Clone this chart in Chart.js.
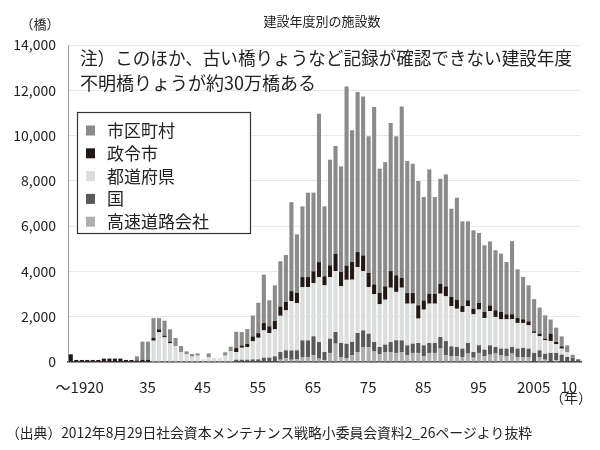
<!DOCTYPE html>
<html>
<head>
<meta charset="utf-8">
<script src="https://cdn.jsdelivr.net/npm/chart.js@4/dist/chart.umd.min.js"></script>
<style>
  html, body { margin: 0; padding: 0; background: #fff; }
  #wrap { width: 600px; height: 450px; position: relative; }
</style>
</head>
<body>
<div id="wrap"><canvas id="chart1" width="600" height="450"></canvas></div>
<script>
// years 1920..2012, the first bar stands for "～1920"
var years = [];
for (var y = 1920; y <= 2012; y++) years.push(String(y));

var tickYears = ["1920","1935","1945","1955","1965","1975","1985","1995","2005","2010"];
// en spaces nudge the first and last label the way the original sets them
var tickText  = ["\u2002\u2002\u2002\u2002～1920","35","45","55","65","75","85","95","2005","\u2002\u200210"];
var yTicks = [0, 2000, 4000, 6000, 8000, 10000, 12000, 14000];

// 市区町村
var city = [0,0,0,0,0,0,0,0,0,0,0,0,
  180,800,800,880,500,660,545,370,265,120,120,100,0,175,0,0,150,205,
  720,590,650,925,1340,2135,1150,1575,2000,2075,
  3930,2575,3120,3725,3475,6550,3090,4665,4755,4665,
  7905,5815,7065,7020,6035,7830,5490,5490,6535,6135,
  7565,5830,5710,5490,4565,5490,4270,4635,4945,3900,
  4505,3740,3490,3460,3090,2945,2825,2650,2575,2310,
  3225,2150,1870,1590,1415,1150,1030,620,630,440,
  295,130,0];
// 政令市
var seirei = [340,90,90,90,90,90,150,150,150,150,90,90,
  70,100,100,120,130,75,75,
  0,0,0,0,0,0,0,0,0,0,0,
  175,100,145,220,205,325,295,370,410,370,
  440,455,440,440,515,660,400,515,765,620,
  630,780,660,690,620,440,500,590,735,735,
  440,470,470,590,410,440,440,440,440,400,
  400,265,265,250,295,265,250,295,325,220,
  220,220,160,175,75,120,75,325,100,100,
  0,0,0];
// 都道府県
var pref = [0,0,0,0,0,0,0,0,0,0,0,0,0,0,0,
  940,1310,1090,825,690,440,350,235,280,130,205,175,175,280,470,
  340,530,560,795,955,1205,1090,1190,1600,1765,
  2180,2090,2355,2355,2355,2870,2945,2725,2695,2515,
  2825,2750,2915,2620,2060,2105,1885,1985,2400,2135,
  2325,1840,1765,1075,1575,1735,1735,1910,1975,1780,
  1690,1620,1620,1665,1575,1400,1515,1325,1295,1295,
  1225,1135,1105,1030,885,620,590,530,385,265,
  220,0,0];
// 国
var nation = [0,0,0,0,0,0,0,0,0,0,0,0,0,0,0,0,0,0,0,0,0,0,0,0,0,0,0,0,0,0,
  100,100,100,115,115,190,190,250,340,350,
  410,400,735,735,840,735,350,630,515,620,
  630,590,840,735,590,400,325,325,440,560,
  515,440,410,440,485,440,440,515,630,440,
  410,370,470,250,340,295,410,295,295,340,
  295,370,400,370,400,295,265,400,325,325,
  220,190,120];
// 高速道路会社
var expressway = [0,0,0,0,0,0,0,0,0,0,0,0,0,0,0,0,0,0,0,0,
  0,0,0,0,0,0,0,0,0,0,0,0,0,0,0,0,0,0,
  100,165,
  100,115,220,220,295,145,90,400,810,220,
  175,295,440,660,660,485,340,440,440,400,
  440,295,400,400,250,400,400,590,295,250,
  250,220,370,190,400,250,325,370,295,250,
  370,220,220,220,0,220,100,0,75,0,
  0,0,0];

var FONT = '"Noto Sans CJK JP", "Noto Sans", sans-serif';

// extra texts and the boxed legend
var decor = {
  id: 'decor',
  afterDraw: function(chart) {
    var ctx = chart.ctx;
    ctx.save();
    ctx.fillStyle = '#222';
    ctx.textBaseline = 'middle';

    ctx.font = '13px ' + FONT;
    ctx.textAlign = 'center';
    ctx.fillText('（橋）', 40, 24);
    ctx.fillText('建設年度別の施設数', 322, 21);

    ctx.textAlign = 'left';
    ctx.font = '18px ' + FONT;
    ctx.fillText('注）このほか、古い橋りょうなど記録が確認できない建設年度', 80, 58, 492);
    ctx.fillText('不明橋りょうが約30万橋ある', 80, 83);

    ctx.font = '14px ' + FONT;
    ctx.fillText('（年）', 550, 398);

    ctx.font = '14px ' + FONT;
    ctx.fillText('（出典）2012年8月29日社会資本メンテナンス戦略小委員会資料2_26ページより抜粋', 6, 433, 526);

    // legend box
    ctx.fillStyle = '#fff';
    ctx.fillRect(77, 112, 173, 121);
    ctx.strokeStyle = '#333';
    ctx.lineWidth = 1.2;
    ctx.strokeRect(77.5, 112.5, 173, 121);
    var ds = chart.data.datasets.slice().reverse();
    ctx.font = '17px ' + FONT;
    for (var i = 0; i < ds.length; i++) {
      var cy = 130.5 + i * 22.8;
      ctx.fillStyle = ds[i].backgroundColor;
      ctx.fillRect(86, cy - 5, 9, 10);
      ctx.fillStyle = '#222';
      ctx.fillText(ds[i].label, 107, cy);
    }
    ctx.restore();
  }
};

var chart1 = new Chart(document.getElementById('chart1'), {
  type: 'bar',
  data: {
    labels: years,
    datasets: [
      { label: '高速道路会社', data: expressway, backgroundColor: '#afafaf' },
      { label: '国', data: nation, backgroundColor: '#5a5858' },
      { label: '都道府県', data: pref, backgroundColor: '#dcdddd' },
      { label: '政令市', data: seirei, backgroundColor: '#231815' },
      { label: '市区町村', data: city, backgroundColor: '#8b8b8b' }
    ]
  },
  options: {
    responsive: false,
    animation: false,
    layout: { padding: { left: 0, right: 19, top: 45, bottom: 0 } },
    datasets: { bar: { categoryPercentage: 1, barPercentage: 0.74, borderWidth: 0 } },
    plugins: { legend: { display: false }, tooltip: { enabled: false } },
    scales: {
      x: {
        stacked: true,
        afterFit: function(s) { s.height = 88; },
        grid: { display: false },
        border: { color: '#444', width: 1.5 },
        ticks: {
          autoSkip: false, maxRotation: 0, minRotation: 0, padding: 8, labelOffset: -6,
          color: '#222', font: { family: FONT, size: 15 },
          callback: function(v, i) {
            var k = tickYears.indexOf(years[i]);
            return k < 0 ? '' : tickText[k];
          }
        }
      },
      y: {
        stacked: true,
        min: 0, max: 14000,
        afterFit: function(s) { s.width = 68; },
        afterBuildTicks: function(s) { s.ticks = yTicks.map(function(v) { return { value: v }; }); },
        grid: { color: '#e9e9e9', drawTicks: false },
        border: { color: '#999', width: 1 },
        ticks: {
          padding: 12, color: '#222', font: { family: FONT, size: 14 },
          callback: function(v) { return v.toLocaleString('en-US'); }
        }
      }
    }
  },
  plugins: [decor]
});
</script>
</body>
</html>
